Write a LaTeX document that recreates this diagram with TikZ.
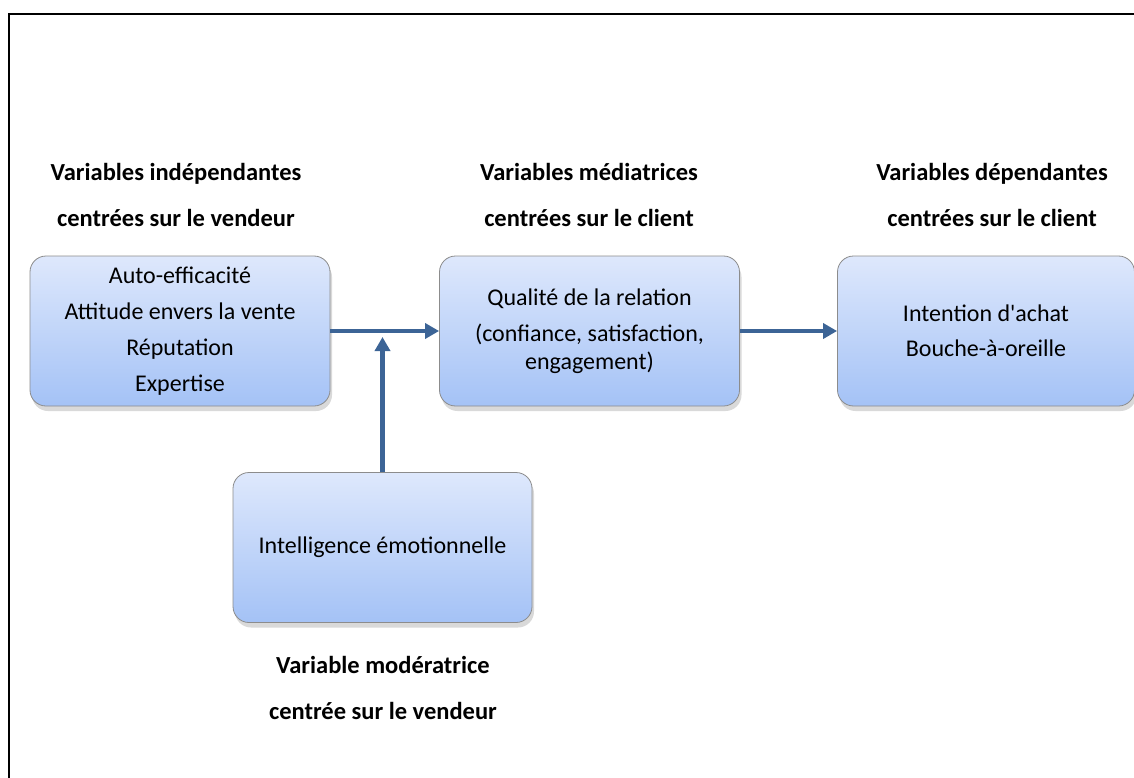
\documentclass[tikz,border=0pt]{standalone}
\usepackage{fontspec}
\setmainfont{Carlito}
\usetikzlibrary{arrows.meta,shadows}
\definecolor{flowblue}{RGB}{60,100,150}
\definecolor{boxtop}{RGB}{222,232,252}
\definecolor{boxbottom}{RGB}{164,194,246}
\definecolor{boxline}{RGB}{140,140,140}
\tikzset{
  varbox/.style={draw=boxline, line width=0.8pt, rounded corners=16pt,
    top color=boxtop, bottom color=boxbottom,
    minimum width=300pt, minimum height=150pt, inner sep=0pt,
    align=center, font=\fontsize{24}{28}\selectfont,
    drop shadow={shadow xshift=2pt, shadow yshift=-5pt, opacity=0.3}},
  varhead/.style={align=center, font=\fontsize{24.5}{46}\selectfont\bfseries},
  flow/.style={draw=flowblue, line width=4.5pt, -{Triangle[length=14pt,width=15pt]}}
}
\begin{document}
\begin{tikzpicture}[x=1pt,y=-1pt]
      \useasboundingbox (0,0) rectangle (1134,778);
      % frame
      \draw[line width=2pt] (9,778) -- (9,14) -- (1134,14);
      % boxes
      \node[varbox] (indep) at (180,331) {Auto-efficacité\\[8pt]Attitude envers la vente\\[8pt]Réputation\\[8pt]Expertise};
      \node[varbox] (medi) at (589.5,331) {Qualité de la relation\\[8pt](confiance, satisfaction,\\engagement)};
      \node[varbox, minimum width=297pt] (dep) at (986,331) {Intention d\textquotesingle achat\\[7pt]Bouche-à-oreille};
      \node[varbox, minimum width=299pt] (moder) at (382.5,547.5) {Intelligence émotionnelle};
      % headings
      \node[varhead] (indephead) at (176,195) {Variables indépendantes\\centrées sur le vendeur};
      \node[varhead] (medihead) at (589,195) {Variables médiatrices\\centrées sur le client};
      \node[varhead] (dephead) at (992,195) {Variables dépendantes\\centrées sur le client};
      \node[varhead] (moderhead) at (383,688) {Variable modératrice\\centrée sur le vendeur};
      % arrows
      \coordinate (join) at (382.5,337);
      \draw[flow] (indep) -- (medi);
      \draw[flow] (medi) -- (dep);
      \draw[flow] (moder) -- (join);
\end{tikzpicture}
\end{document}
